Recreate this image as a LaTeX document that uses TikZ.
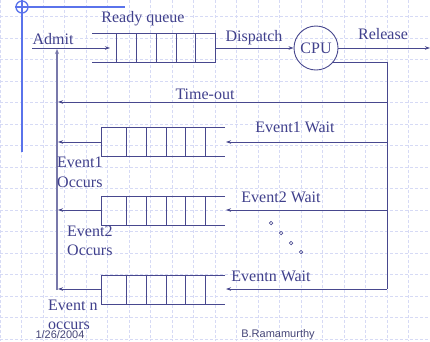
\documentclass[tikz,border=0pt]{standalone}
\usepackage{fontspec}
\setmainfont{Liberation Serif}
\newfontfamily\footfont{Liberation Sans}
\usetikzlibrary{arrows.meta}
\definecolor{ink}{RGB}{64,64,140}
\definecolor{lin}{RGB}{72,72,142}
\definecolor{ret}{RGB}{120,120,170}
\definecolor{gridc}{RGB}{214,218,245}
\definecolor{deco}{RGB}{90,115,235}
\definecolor{footc}{RGB}{70,70,120}
\tikzset{
  gridl/.style={gridc, line width=0.6pt, dash pattern=on 3pt off 2pt},
  lbl/.style={text=ink, font=\fontsize{16}{19.5}\selectfont, inner sep=0pt},
  foot/.style={text=footc, font=\footfont\fontsize{11}{13}\selectfont, inner sep=0pt},
  qline/.style={lin, line width=0.9pt},
  conn/.style={lin, line width=0.8pt},
  arr/.style={conn, -{Stealth[length=5pt,width=3.5pt]}},
  retl/.style={ret, line width=1.6pt},
  decol/.style={deco, line width=1.3pt},
  dot/.style={circle, draw=lin, line width=0.7pt, minimum size=3.5pt, inner sep=0pt}
}
\begin{document}
\begin{tikzpicture}[x=1pt,y=-1pt]
\useasboundingbox (0,0) rectangle (430,341);
\fill[white] (0,0) rectangle (430,341);
% background grid
\foreach \i in {0,...,20} \draw[gridl] (\i*21.5,0) -- (\i*21.5,341);
\foreach \j in {1,...,16} \draw[gridl] (0,-5+\j*21.5) -- (430,-5+\j*21.5);
% decoration
\draw[decol] (15,7) -- (125,7);
\draw[decol] (22,0) -- (22,152);
\draw[decol] (22,7) circle (6);

% ready queue
\draw[qline] (92,33) -- (215,33) -- (215,62) -- (92,62);
\foreach \x in {116,136,156,176,195} \draw[qline] (\x,33) -- (\x,62);
% event queues
\foreach \t/\b in {127/156, 196/225, 275/304}{
  \draw[qline] (225,\t) -- (101,\t) -- (101,\b) -- (225,\b);
  \foreach \x in {126,146,166,185,205} \draw[qline] (\x,\t) -- (\x,\b);
}

% coordinates
\coordinate (admitS) at (32,48);
\coordinate (rqin) at (110,48);
\coordinate (rqout) at (215,48);
\node[circle, draw=lin, line width=0.9pt, minimum size=44pt, inner sep=0pt, lbl] (cpu) at (316,48) {CPU};
\coordinate (relE) at (430,48);
\coordinate (rc) at (387,62);
\coordinate (rb) at (387,289);
\coordinate (to) at (387,102);
\coordinate (e1w) at (387,142);
\coordinate (e2w) at (387,210);
\coordinate (q1in) at (226,142);
\coordinate (q2in) at (226,210);
\coordinate (qnin) at (226,289);
\coordinate (q1out) at (101,142);
\coordinate (q2out) at (101,210);
\coordinate (qnout) at (101,289);
\coordinate (v1) at (58,142);
\coordinate (v2) at (58,210);
\coordinate (vn) at (58,289);
\coordinate (vto) at (58,102);
\coordinate (vbot) at (57,290);
\coordinate (vtop) at (57,49);

% return vertical
\draw[retl, -{Stealth[length=5pt,width=4pt]}] (vbot) -- (vtop);

% connectors
\draw[arr] (admitS) -- (rqin);
\draw[arr] (rqout) -- (cpu);
\draw[arr] (cpu) -- (relE);
\draw[conn] (cpu.-40) -- (cpu.-40 -| rc) -- (rb);
\draw[arr] (rb) -- (qnin);
\draw[arr] (to) -- (vto);
\draw[arr] (e1w) -- (q1in);
\draw[arr] (e2w) -- (q2in);
\draw[arr] (q1out) -- (v1);
\draw[arr] (q2out) -- (v2);
\draw[arr] (qnout) -- (vn);

% labels
\node[lbl] (rq) at (143,19) {Ready queue};
\node[lbl] (admit) at (53,39) {Admit};
\node[lbl] (disp) at (254,38) {Dispatch};
\node[lbl] (rel) at (383,34) {Release};
\node[lbl] (tol) at (205,94) {Time-out};
\node[lbl] (e1wl) at (295,127) {Event1 Wait};
\node[lbl] (e2wl) at (281,197) {Event2 Wait};
\node[lbl] (enwl) at (271,276) {Eventn Wait};
\node[lbl, anchor=west, align=left] (e1o) at (57,172.5) {Event1\\Occurs};
\node[lbl, anchor=west, align=left] (e2o) at (67,241) {Event2\\Occurs};
\node[lbl, anchor=west, align=left] (eno) at (48,315) {Event n\\occurs};

% dots
\node[dot] (d1) at (271,223) {};
\node[dot] (d2) at (281,233) {};
\node[dot] (d3) at (291,243) {};
\node[dot] (d4) at (301,252) {};

% footer
\node[foot] (date) at (60,335) {1/26/2004};
\node[foot] (auth) at (278,335) {B.Ramamurthy};
\end{tikzpicture}
\end{document}
